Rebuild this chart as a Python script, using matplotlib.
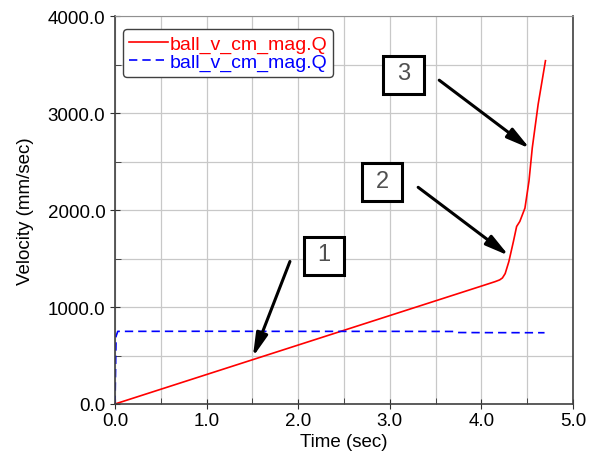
import matplotlib.pyplot as plt
from matplotlib.patches import Rectangle
from matplotlib.ticker import MultipleLocator, FormatStrFormatter

plt.rcParams['font.family'] = ['Liberation Sans', 'DejaVu Sans']

# red: ball speed magnitude
t_red = [0.0, 0.5, 1.0, 1.5, 2.0, 2.5, 3.0, 3.5, 4.0, 4.15, 4.20, 4.23, 4.26, 4.30, 4.35, 4.385, 4.42, 4.476, 4.52, 4.556, 4.62, 4.70]
v_red = [0, 152, 304, 456, 608, 760, 912, 1064, 1216, 1262, 1280, 1300, 1345, 1468, 1676, 1831, 1883, 2021, 2300, 2642, 3091, 3541]

# blue dashed
t_blue = [0.0, 0.012, 0.03, 1.0, 2.0, 3.0, 3.70, 3.75, 4.0, 4.69]
v_blue = [0, 700, 749, 750, 749, 749, 748, 737, 736, 735]

labels = ['1', '2', '3']
box_xy = [(2.28, 1530), (2.915, 2290), (3.15, 3394)]
arrow_from = [(1.91, 1470), (3.31, 2235), (3.54, 3340)]
arrow_to = [(1.505, 485), (4.30, 1530), (4.53, 2635)]

fig = plt.figure(figsize=(5.99, 4.6), dpi=100)
ax = fig.add_axes([0.192, 0.1196, 0.7645, 0.843])

ax.plot(t_red, v_red, color='red', lw=1.2, label='ball_v_cm_mag.Q')
ax.plot(t_blue, v_blue, color='blue', lw=1.2, ls=(0, (5, 3)), label='ball_v_cm_mag.Q')

bw, bh = 0.437, 392  # box size in data units (about 40 x 38 px)
for lab, (bx, by), (fx, fy), (tx, ty) in zip(labels, box_xy, arrow_from, arrow_to):
    ax.add_patch(Rectangle((bx - bw / 2, by - bh / 2), bw, bh, fc='white',
                           ec='black', lw=2.2, zorder=4))
    ax.text(bx, by + 15, lab, fontsize=17, color='#505050', ha='center', va='center',
            fontweight='light', zorder=5)
    ax.annotate('', xy=(tx, ty), xytext=(fx, fy),
                arrowprops=dict(arrowstyle='-|>,head_length=1.4,head_width=0.35',
                                color='black', lw=2.2, shrinkA=0, shrinkB=0))

ax.set_xlim(0, 5.0)
ax.set_ylim(0, 4000)
ax.xaxis.set_major_locator(MultipleLocator(1.0))
ax.xaxis.set_minor_locator(MultipleLocator(0.5))
ax.yaxis.set_major_locator(MultipleLocator(1000))
ax.yaxis.set_minor_locator(MultipleLocator(500))
ax.xaxis.set_major_formatter(FormatStrFormatter('%.1f'))
ax.yaxis.set_major_formatter(FormatStrFormatter('%.1f'))
ax.grid(which='both', color='#c8c8c8', lw=0.9)
ax.set_axisbelow(True)
ax.tick_params(which='major', direction='inout', length=7, labelsize=13.5, color='#303030')
ax.tick_params(which='minor', direction='in', length=4, color='#303030')
ax.tick_params(axis='x', pad=2)

for s in ['left', 'bottom', 'right']:
    ax.spines[s].set_color('#404040')
    ax.spines[s].set_linewidth(1.2)
ax.spines['top'].set_color('#909090')

ax.set_xlabel('Time (sec)', fontsize=13.5, labelpad=3)
ax.set_ylabel('Velocity (mm/sec)', fontsize=13.5, labelpad=10)

leg = ax.legend(loc='upper left', bbox_to_anchor=(0.017, 0.967), fontsize=14,
                handlelength=2.0, handletextpad=0.1, borderpad=0.3,
                labelspacing=0.05, borderaxespad=0, framealpha=1, fancybox=True)
leg.get_frame().set_edgecolor('#404040')
for txt, c in zip(leg.get_texts(), ['red', 'blue']):
    txt.set_color(c)

fig.savefig('out.png', dpi=100)
